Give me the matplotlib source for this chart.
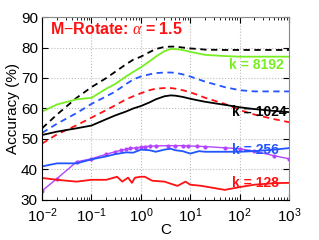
import matplotlib
matplotlib.use('Agg')
import matplotlib.pyplot as plt
import numpy as np

plt.rcParams['font.family'] = ['Liberation Sans', 'DejaVu Sans']
plt.rcParams['mathtext.fontset'] = 'custom'
plt.rcParams['mathtext.rm'] = 'Liberation Sans'
plt.rcParams['mathtext.it'] = 'Liberation Serif:italic'

# shared C grid for the smooth curves
C = [0.01, 0.02, 0.05, 0.1, 0.2, 0.3, 0.5, 0.7, 1, 1.5, 2, 3, 4, 5, 7, 10,
     15, 20, 50, 100, 200, 500, 1000]

k8192_dash = [53.5, 58, 63.5, 67, 70, 72, 74.5, 76, 77, 78.5, 79.5, 80.2, 80.3,
              80.3, 80, 79.7, 79.5, 79.3, 79.2, 79.2, 79.2, 79.2, 79.2]
k8192 = [59, 61.3, 63, 63.5, 66.5, 68, 70.5, 72, 73.5, 75.5, 77, 78.8, 79.5,
         79.5, 79.2, 78.6, 78, 77.6, 77.2, 77, 77, 77, 77]
blue_dash = [52, 55, 58.5, 61.5, 64, 65.5, 68, 69.5, 70.5, 71.2, 71.6, 71.8,
             71.8, 71.7, 71.2, 70.5, 69.5, 68.8, 67, 66, 65.6, 65.6, 65.6]
red_dash = [48.5, 51.5, 54.5, 57, 59.5, 61, 63, 64, 65, 66, 66.5, 66.7, 66.7,
            66.5, 66, 65.3, 64.3, 63.5, 61.5, 59.5, 58, 56.5, 55.5]
k1024 = [51.3, 52.4, 53.5, 54.4, 56.5, 57.7, 59, 60, 60.8, 62, 63, 64, 64.3,
         64.2, 63.8, 63.2, 62.6, 62.2, 61.2, 60.4, 59.8, 59.2, 58.8]
k256 = [41, 42, 42, 43.3, 44.3, 45, 45.6, 45.5, 46.5, 46.3, 45.8, 46.5, 46.8,
        46.3, 46, 45.2, 46, 45.8, 45.8, 45.8, 46, 46.5, 47]

C_red = [0.01, 0.02, 0.05, 0.1, 0.2, 0.33, 0.42, 0.55, 0.66, 0.76, 1, 1.2, 1.7,
         3, 5.5, 8, 10, 17, 50, 100, 200, 500, 1000]
k128 = [37.2, 36.6, 36, 36.6, 36.6, 37.6, 36, 37.3, 35.6, 37.3, 37.6, 37.6, 36.3,
        36, 34.6, 36, 35, 34.6, 33.3, 34.2, 35, 35.5, 35.6]

C_purple = [0.01, 0.02, 0.05, 0.1, 0.2, 0.3, 0.4, 0.5, 0.6, 0.8, 1, 1.2, 1.5, 2,
            3.5, 5, 7, 9, 14, 20, 50, 100, 200, 500, 1000]
purple = [33, 37, 42.5, 43.5, 45, 45.8, 46.3, 46.6, 46.9, 47.1, 47.3, 47.5, 47.6,
          47.7, 47.8, 47.8, 47.8, 47.7, 47.6, 47.5, 47.1, 46.8, 46, 44.5, 43.5]

fig = plt.figure(figsize=(3.19, 2.4), dpi=100)
ax = fig.add_axes([0.132, 0.167, 0.774, 0.762])

lw = 1.3
ax.plot(C, k8192_dash, '--', color='black', lw=lw, dashes=(3.5, 2.5))
ax.plot(C, blue_dash, '--', color='#2255ff', lw=lw, dashes=(3.5, 2.5))
ax.plot(C, red_dash, '--', color='#ff1111', lw=lw, dashes=(3.5, 2.5))
ax.plot(C, k8192, '-', color='#77ee22', lw=lw)
ax.plot(C, k1024, '-', color='black', lw=lw)
ax.plot(C_purple, purple, '-', color='#b444ff', lw=1.0, marker='o', markersize=3,
        markeredgewidth=0)
ax.plot(C, k256, '-', color='#2255ff', lw=lw)
ax.plot(C_red, k128, '-', color='#ff1111', lw=lw)

ax.set_xscale('log')
ax.set_xlim(0.01, 1000)
ax.set_ylim(30, 90)
ax.set_yticks([30, 40, 50, 60, 70, 80, 90])
ax.set_xticks([0.01, 0.1, 1, 10, 100, 1000])
ax.grid(True, which='major', linestyle=':', color='#bbbbbb', lw=0.8)
ax.tick_params(which='both', direction='in', top=True, right=True, labelsize=11)
ax.tick_params(which='major', length=4, pad=3)
ax.tick_params(axis='x', which='major', pad=5)
ax.tick_params(which='minor', length=2)
for s in ['top', 'right']:
    ax.spines[s].set_color('#888888')

ax.set_xlabel('C', fontsize=11, labelpad=-2)
ax.set_ylabel('Accuracy (%)', fontsize=11, labelpad=1)

ax.text(0.0145, 86, r'M$-$Rotate: $\alpha$ = 1.5', color='#ff1111', fontsize=11.5,
        fontweight='bold', va='center')
ax.text(61, 74.3, 'k = 8192', color='#77ee22', fontsize=10, fontweight='bold', va='center')
ax.text(70, 58.7, 'k = 1024', color='black', fontsize=10, fontweight='bold', va='center')
ax.text(70, 46.5, 'k = 256', color='#2255ff', fontsize=10, fontweight='bold', va='center')
ax.text(70, 35.6, 'k = 128', color='#ff1111', fontsize=10, fontweight='bold', va='center')

fig.savefig('out.png', dpi=100)
